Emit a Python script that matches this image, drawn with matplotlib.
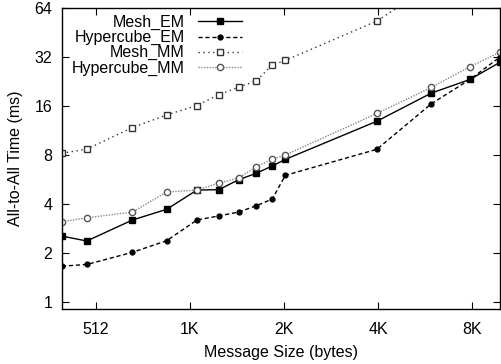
import matplotlib
matplotlib.use("Agg")
import matplotlib.pyplot as plt
import numpy as np

plt.rcParams['font.family'] = ['Liberation Sans', 'DejaVu Sans']

# Message sizes (bytes) and all-to-all times (ms)
msg_size = [400, 480, 672, 864, 1080, 1270, 1470, 1670, 1880, 2070, 4060, 6060, 8060, 10050]
mesh_em = [2.54, 2.37, 3.19, 3.71, 4.87, 4.9, 5.65, 6.17, 6.85, 7.52, 12.9, 19.2, 23.3, 29.7]
hypercube_em = [1.66, 1.70, 2.02, 2.38, 3.19, 3.38, 3.57, 3.9, 4.29, 6.0, 8.67, 16.5, 23.3, 32.0]
mesh_mm = [8.2, 8.7, 11.8, 14.1, 16.1, 18.8, 20.9, 22.8, 28.6, 30.5, 53.2, 88.0]
hypercube_mm = [3.11, 3.29, 3.57, 4.74, 4.87, 5.38, 5.78, 6.78, 7.52, 8.0, 14.4, 20.8, 27.9, 34.3]

x_ticks = [512, 1024, 2048, 4096, 8192]
x_ticklabels = ["512", "1K", "2K", "4K", "8K"]
y_ticks = [1, 2, 4, 8, 16, 32, 64]
y_ticklabels = ["1", "2", "4", "8", "16", "32", "64"]

FS = 11.5
W, H = 501, 364
fig = plt.figure(figsize=(W / 100, H / 100), dpi=100)
ax = fig.add_axes([62 / W, (H - 309) / H, (500 - 62) / W, (309 - 8) / H])

ax.plot(msg_size, mesh_em, color='black', lw=1.0, ls='-',
        marker='s', ms=4.5, mfc='black', mec='black', label='Mesh_EM')
ax.plot(msg_size, hypercube_em, color='black', lw=1.0, ls=(0, (3, 2)),
        marker='o', ms=3.5, mfc='black', mec='black', label='Hypercube_EM')
ax.plot(msg_size[:len(mesh_mm)], mesh_mm, color='#333333', lw=1.0, ls=(0, (1, 2.5)),
        marker='s', ms=4.5, mfc='white', mec='#333333', mew=1.0, label='Mesh_MM')
ax.plot(msg_size, hypercube_mm, color='#888888', lw=1.0, ls=(0, (1, 1)),
        marker='o', ms=4.5, mfc='white', mec='#555555', mew=1.0, label='Hypercube_MM')

ax.set_xscale('log', base=2)
ax.set_yscale('log', base=2)
ax.set_xlim(msg_size[0], msg_size[-1])
ax.set_ylim(2 ** (-7 / 49), 64)

ax.set_xticks(x_ticks)
ax.set_xticklabels(x_ticklabels)
ax.set_yticks(y_ticks)
ax.set_yticklabels(y_ticklabels)
ax.minorticks_off()
ax.tick_params(direction='in', length=5, width=0.8, top=True, right=True,
               labelsize=FS)
ax.tick_params(axis='x', pad=9)
ax.tick_params(axis='y', pad=7)
for s in ax.spines.values():
    s.set_linewidth(1.0)

ax.set_xlabel('Message Size (bytes)', fontsize=FS, labelpad=6)
ax.set_ylabel('All-to-All Time (ms)', fontsize=FS, labelpad=8)

leg = ax.legend(loc='upper right', bbox_to_anchor=((242 - 62) / 438, (309 - 15) / 301),
                markerfirst=False, frameon=False, fontsize=FS, handlelength=2.75,
                handletextpad=0.85, labelspacing=0.0, borderpad=0, borderaxespad=0)

fig.savefig('out.png', dpi=100)
